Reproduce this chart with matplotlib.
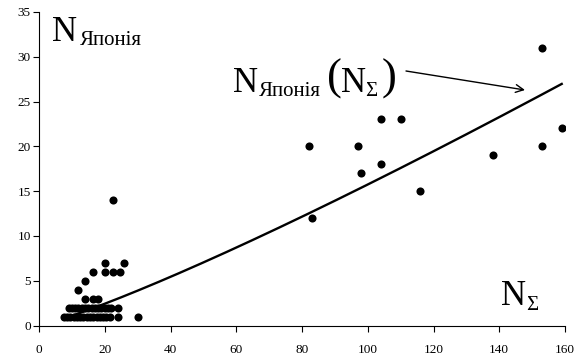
import numpy as np
import matplotlib
matplotlib.use("Agg")
import matplotlib.pyplot as plt

# ---- data ----
x_big = [82, 83, 97, 98, 104, 104, 110, 116, 138, 153, 153, 159]
y_big = [20, 12, 20, 17, 23, 18, 23, 15, 19, 31, 20, 22]

x_cluster = [22.6, 20, 26, 16.5, 20, 22.6, 24.6, 14, 12, 14, 16.5, 18,
             9, 10, 11, 12, 13, 14, 15, 16, 17, 18, 19, 20, 21, 22, 24,
             7.5, 8.5, 9.5, 10.5, 11.5, 12.5, 13.5, 14.5, 15.5, 16.5, 17.5,
             18.5, 19.5, 20.5, 21.6, 24, 30]
y_cluster = [14, 7, 7, 6, 6, 6, 6, 5, 4, 3, 3, 3,
             2, 2, 2, 2, 2, 2, 2, 2, 2, 2, 2, 2, 2, 2, 2,
             1, 1, 1, 1, 1, 1, 1, 1, 1, 1, 1,
             1, 1, 1, 1, 1, 1]

# power trend y = a * x^b
trend_a = 0.075
trend_b = 1.161

x_ticks = [0, 20, 40, 60, 80, 100, 120, 140, 160]
y_ticks = [0, 5, 10, 15, 20, 25, 30, 35]

plt.rcParams['font.family'] = ['Liberation Serif', 'DejaVu Serif']

W, H = 586, 358
fig = plt.figure(figsize=(W / 100, H / 100), dpi=100)
ax = fig.add_axes([39 / W, 1 - 325.5 / H, (565 - 39) / W, (325.5 - 12) / H])

xs = np.array(x_cluster + x_big, dtype=float)
ys = np.array(y_cluster + y_big, dtype=float)
ax.scatter(xs, ys, s=34, color='black', zorder=3, linewidths=0)

xt = np.linspace(xs.min(), xs.max(), 200)
ax.plot(xt, trend_a * xt ** trend_b, color='black', lw=1.7, zorder=2)

ax.set_xlim(0, 160)
ax.set_ylim(0, 35)
ax.set_xticks(x_ticks)
ax.set_yticks(y_ticks)
ax.tick_params(axis='x', direction='out', length=4, width=0.8, pad=9, labelsize=9.5)
ax.tick_params(axis='y', direction='out', length=4, width=0.8, pad=2, labelsize=9.5)
for s in ['top', 'right']:
    ax.spines[s].set_visible(False)
for s in ['left', 'bottom']:
    ax.spines[s].set_linewidth(0.8)


def ftext(px, py, s, size):
    fig.text(px / W, 1 - py / H, s, fontsize=size, va='baseline', ha='left')


# top-left label
ftext(52, 41, 'N', 25)
ftext(80, 45, 'Японія', 15)

# annotation
ftext(233, 92, 'N', 25)
ftext(259, 96, 'Японія', 15)
ftext(327, 90, '(', 32)
ftext(341, 92, 'N', 25)
ftext(365, 96, 'Σ', 15)
ftext(382, 90, ')', 32)

ax.annotate('', xy=(525 / W, 1 - 90 / H), xytext=(406 / W, 1 - 71 / H),
            xycoords='figure fraction', textcoords='figure fraction',
            arrowprops=dict(arrowstyle='->', color='black', lw=1.0,
                            mutation_scale=14, shrinkA=0, shrinkB=0))

# bottom-right label
ftext(501, 305, 'N', 25)
ftext(526, 310, 'Σ', 15)

fig.savefig('out.png', dpi=100)
